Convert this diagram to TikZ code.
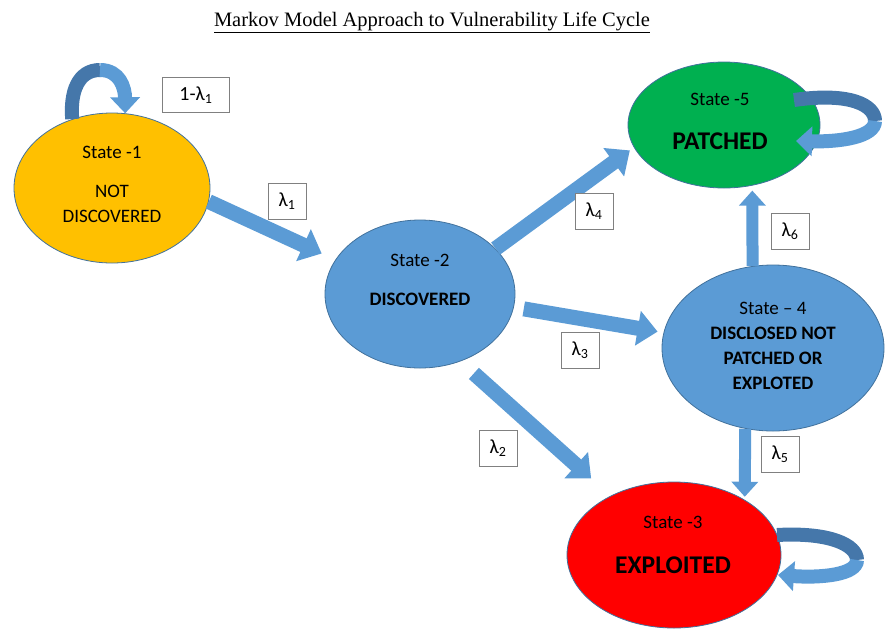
\documentclass[tikz,border=0pt]{standalone}
\usepackage{fontspec}
\setmainfont{Carlito}
\newfontfamily\titlefont{Liberation Serif}
\usetikzlibrary{arrows.meta, shapes.geometric}

\definecolor{stateblue}{HTML}{5B9BD5}
\definecolor{edgeblue}{HTML}{41719C}
\definecolor{loopblue}{HTML}{4577AA}
\definecolor{stateyellow}{HTML}{FFC000}
\definecolor{stategreen}{HTML}{00B050}
\definecolor{statered}{HTML}{FF0000}

\tikzset{
  state/.style={ellipse, draw=edgeblue, line width=0.8pt, inner sep=0pt},
  stitle/.style={font=\fontsize{19}{22}\selectfont},
  sname/.style={font=\fontsize{19}{25}\selectfont\bfseries, align=center},
  bigname/.style={font=\fontsize{25.5}{28}\selectfont\bfseries},
  rate/.style={draw=gray, fill=white, line width=0.7pt, minimum width=38pt,
    minimum height=36pt, inner sep=2pt, font=\fontsize{20}{22}\selectfont},
  flow/.style={stateblue, line width=15pt, -{Triangle[width=34pt, length=20pt]}},
  vflow/.style={stateblue, line width=12pt, -{Triangle[width=26pt, length=15pt]}},
  loopback/.style={loopblue, line width=14pt},
  loopfront/.style={stateblue, line width=14pt, -{Triangle[width=29pt, length=16pt]}}
}

\begin{document}
\begin{tikzpicture}[x=1pt, y=-1pt]
\useasboundingbox (0,0) rectangle (885,630);

% title
\node[anchor=base, font=\titlefont\fontsize{20.5}{24}\selectfont] (title) at (432,26)
  {\underline{Markov Model Approach to Vulnerability Life Cycle}};

% the five states
\node[state, fill=stateyellow, minimum width=196pt, minimum height=150pt] (s1) at (112,188) {};
\node[state, fill=stateblue, minimum width=190pt, minimum height=148pt] (s2) at (420,294) {};
\node[state, fill=stategreen, minimum width=192pt, minimum height=126pt] (s5) at (724,125) {};
\node[state, fill=stateblue, minimum width=222pt, minimum height=166pt] (s4) at (773,348) {};
\node[state, fill=statered, minimum width=214pt, minimum height=146pt] (s3) at (674,555) {};

% state texts
\node[stitle] (s1t) at (112,152) {State -1};
\node[stitle, align=center, font=\fontsize{19}{25}\selectfont] (s1n) at (112,204) {NOT\\DISCOVERED};
\node[stitle] (s2t) at (420,260) {State -2};
\node[sname] (s2n) at (420,299) {DISCOVERED};
\node[stitle] (s5t) at (720,99) {State -5};
\node[bigname] (s5n) at (720,141) {PATCHED};
\node[stitle] (s4t) at (773,308) {State – 4};
\node[sname] (s4n) at (773,358) {DISCLOSED NOT\\PATCHED OR\\EXPLOTED};
\node[stitle] (s3t) at (673,522) {State -3};
\node[bigname] (s3n) at (673,565) {EXPLOITED};

% transitions between states
\draw[flow, shorten >=15pt] (s1.-8) -- (s2.158);
\draw[flow, shorten >=5pt] (s2.31) -- (s5.194);
\draw[flow, shorten <=10pt, shorten >=6pt] (s2.-8) -- (s4.172);
\draw[flow, shorten <=18pt, shorten >=26pt] (s2.-59) -- (s3.137);
\draw[vflow, shorten >=5pt] (s4.104) -- (s5.-65);
\draw[vflow, shorten >=3pt] (s4.-109) -- (s3.38);

% self loops: back half darker, front half with the arrow head
\draw[loopback] (s1.120) .. controls (70,92) and (78,70) .. (100,70);
\draw[loopfront] (100,70) .. controls (120,70) and (125,88) .. (s1.80);

\draw[loopback] ([shift={(70,-25)}]s5.center) .. controls (850,92) and (875,105) .. (875,121);
\draw[loopfront] (875,121) .. controls (875,137) and (840,142) .. ([shift={(72,16)}]s5.center);

\draw[loopback] ([shift={(103,-20)}]s3.center) .. controls (830,532) and (857,545) .. (857,560);
\draw[loopfront] (857,560) .. controls (857,575) and (820,578) .. ([shift={(104,20)}]s3.center);

% transition rates
\node[rate, minimum width=67pt, minimum height=35pt] (r11) at (196,95) {1-λ\textsubscript{1}};
\node[rate] (r1) at (287,201) {λ\textsubscript{1}};
\node[rate] (r4) at (594,211) {λ\textsubscript{4}};
\node[rate] (r3) at (580,350) {λ\textsubscript{3}};
\node[rate] (r2) at (498,448) {λ\textsubscript{2}};
\node[rate] (r6) at (790,231) {λ\textsubscript{6}};
\node[rate] (r5) at (780,454) {λ\textsubscript{5}};

\end{tikzpicture}
\end{document}
